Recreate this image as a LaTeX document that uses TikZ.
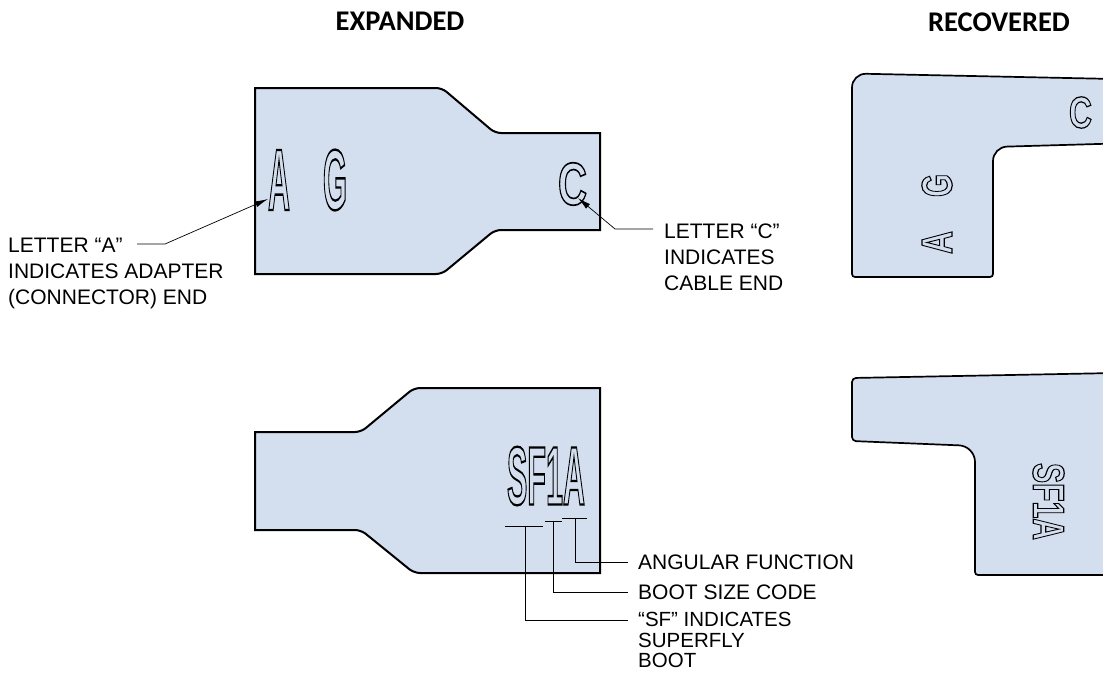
\documentclass[tikz,border=0pt]{standalone}
\usepackage{fontspec}
\setmainfont{Liberation Sans}
\newfontfamily\headfont{Carlito}
\usetikzlibrary{arrows.meta, positioning}
\definecolor{bootblue}{HTML}{D3DEEF}
\newcommand{\outlined}[3]{\resizebox{#1}{#2}{\fontsize{80}{80}\bfseries\selectfont\special{pdf:code 1 Tr 2.2 w}#3\special{pdf:code 0 Tr}}}
\tikzset{
    boot/.style={draw, fill=bootblue, line width=2pt},
    recovered/.style={draw, fill=bootblue, line width=1.7pt},
    heading/.style={font=\headfont\bfseries\fontsize{28.5}{32}\selectfont, inner sep=0pt},
    callout/.style={font=\fontsize{21}{26}\selectfont, align=left, anchor=north west, inner sep=0pt},
    letter/.style={inner sep=0pt, outer sep=0pt},
    leader/.style={line width=0.8pt},
    pointer/.style={line width=0.7pt, -{Latex[length=13pt,width=6pt]}}
}
\begin{document}
\begin{tikzpicture}[x=1pt, y=-1pt]
\clip (0,0) rectangle (1103,672);

% headings
\node[heading] (expanded) at (400,21) {EXPANDED};
\node[heading] (recov) at (999,22) {RECOVERED};

% expanded boots
\draw[boot] (255,88) -- (255,274) [rounded corners=6pt] -- (442,274) -- (495,230) [sharp corners] -- (600,230) -- (600,133) [rounded corners=6pt] -- (495,133) -- (442,88) [sharp corners] -- cycle;
\draw[boot] (600,388) -- (600,573) [rounded corners=6pt] -- (414,573) -- (361,530) [sharp corners] -- (255,530) -- (255,432) [rounded corners=6pt] -- (361,432) -- (414,388) [sharp corners] -- cycle;

% recovered boots
\draw[recovered] (852,277) [rounded corners=14pt] -- (852,73.5) [sharp corners] -- (1115,79) -- (1115,143.5) [rounded corners=14pt] -- (993,147) [rounded corners=3pt] -- (993,277) -- cycle;
\draw[recovered] (1115,373) [rounded corners=4pt] -- (852,378) -- (852,441) [rounded corners=16pt] -- (975,446) [rounded corners=3pt] -- (975,575) [sharp corners] -- (1115,575) -- cycle;

% letters on the expanded boots
\node[letter] (letterA) at (279,180) {\outlined{22pt}{60pt}{A}};
\node[letter] (letterG) at (335,180) {\outlined{24pt}{60pt}{G}};
\node[letter] (letterC) at (572.5,184) {\outlined{29pt}{42pt}{C}};
\node[letter] (codeSF) at (546,476) {\outlined{78pt}{58pt}{SF1A}};

% letters on the recovered boots
\node[letter] (recC) at (1080.5,112.5) {\outlined{23pt}{31pt}{C}};
\node[letter, rotate=90] (recG) at (937,185.5) {\outlined{23pt}{30pt}{G}};
\node[letter, rotate=90] (recA) at (937,242.5) {\outlined{23pt}{30pt}{A}};
\node[letter, rotate=-90] (recCode) at (1048.5,501.5) {\outlined{77pt}{31pt}{SF1A}};

% callouts
\node[callout] (noteA) at (8,238) {LETTER “A”\\INDICATES ADAPTER\\(CONNECTOR) END};
\node[callout] (noteC) at (664,224) {LETTER “C”\\INDICATES\\CABLE END};
\node[callout, anchor=west] (noteAngle) at (638,562) {ANGULAR FUNCTION};
\node[callout, anchor=west] (noteSize) at (638,592) {BOOT SIZE CODE};
\node[callout, font=\fontsize{20.5}{20.5}\selectfont] (noteSF) at (638,612) {“SF” INDICATES\\SUPERFLY\\BOOT};

% leaders
\coordinate (endA) at (137,244);
\coordinate (bendA) at (165,244);
\coordinate (tipA) at (268,199);
\coordinate (endC) at (653,229);
\coordinate (bendC) at (615,229);
\coordinate (tipC) at (578,198);
\coordinate (endAngle) at (628,562);
\coordinate (endSize) at (628,592);
\coordinate (endSF) at (628,620);
\coordinate (barSFl) at (505,526);
\coordinate (barSFr) at (543,526);
\coordinate (barSFm) at (525,526);
\coordinate (barSizel) at (545,521);
\coordinate (barSizer) at (562,521);
\coordinate (barSizem) at (553,521);
\coordinate (barAnglel) at (562,518);
\coordinate (barAngler) at (587,518);
\coordinate (barAnglem) at (575,518);

\draw[pointer] (endA) -- (bendA) -- (tipA);
\draw[pointer] (endC) -- (bendC) -- (tipC);
\draw[leader] (barSFl) -- (barSFr);
\draw[leader] (barSizel) -- (barSizer);
\draw[leader] (barAnglel) -- (barAngler);
\draw[leader] (barAnglem) |- (endAngle);
\draw[leader] (barSizem) |- (endSize);
\draw[leader] (barSFm) |- (endSF);
\end{tikzpicture}
\end{document}
